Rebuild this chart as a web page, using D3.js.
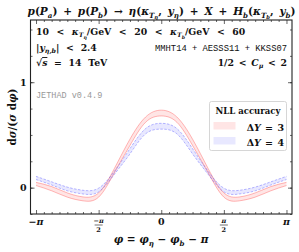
<!DOCTYPE html>
<html>
<head>
<meta charset="utf-8">
<script src="https://cdn.jsdelivr.net/npm/d3@7"></script>
<style>
  body { margin: 0; background: #fff; }
  svg { display: block; }
  text { font-family: "DejaVu Serif", "Liberation Serif", serif; font-weight: bold; fill: #111; }
  .mono { font-family: "Liberation Mono", "DejaVu Sans Mono", monospace; font-weight: normal; }
</style>
</head>
<body>
<svg id="chart" width="299" height="252"></svg>
<script>
// DATA: phi grid (in units of pi/8) and band edges
const phiSteps = [-8, -7, -6, -5, -4, -3, -2, -1, 0, 1, 2, 3, 4, 5, 6, 7, 8];
const dy3Hi = [0.05, 0.01, -0.05, -0.088, -0.05, 0.18, 0.46, 0.67, 0.735, 0.67, 0.46, 0.18, -0.05, -0.088, -0.05, 0.01, 0.05];
const dy3Lo = [0.02, -0.03, -0.09, -0.125, -0.09, 0.14, 0.40, 0.62, 0.68, 0.62, 0.40, 0.14, -0.09, -0.125, -0.09, -0.03, 0.02];
const dy4Hi = [0.107, 0.055, 0.005, -0.025, -0.005, 0.155, 0.37, 0.56, 0.61, 0.56, 0.37, 0.155, -0.005, -0.025, 0.005, 0.055, 0.107];
const dy4Lo = [0.077, 0.025, -0.03, -0.06, -0.04, 0.125, 0.32, 0.51, 0.555, 0.51, 0.32, 0.125, -0.04, -0.06, -0.03, 0.025, 0.077];
const seriesNames = ["\u0394Y = 3", "\u0394Y = 4"];
const xMajor = [-1, -0.5, 0, 0.5, 1];   // multiples of pi
const yMajor = [0, 1];

// SETUP
const margin = { top: 20, right: 7, bottom: 38, left: 30.5 },
      width = 299 - margin.left - margin.right,
      height = 252 - margin.top - margin.bottom;

const svg = d3.select("#chart");
const g = svg.append("g").attr("transform", `translate(${margin.left},${margin.top})`);

const x = d3.scaleLinear().domain([-3.28, 3.28]).range([0, width]);
const y = d3.scaleLinear().domain([-0.25, 1.59]).range([height, 0]);

// rich text helper: parts are [text, flags] where flags: i = italic, 1 = sub, 2 = subsub, o = overline
function rich(sel, px, py, parts, size, anchor, ws) {
    const t = sel.append("text").attr("x", px).attr("y", py)
        .attr("font-size", size).attr("text-anchor", anchor || "start")
        .attr("word-spacing", ws || 0);
    let off = 0;
    parts.forEach(([s, f = ""]) => {
        const lvl = f.includes("2") ? 2 : f.includes("1") ? 1 : 0;
        const target = lvl === 2 ? size * 0.42 : lvl === 1 ? size * 0.25 : 0;
        const fs = lvl === 2 ? size * 0.5 : lvl === 1 ? size * 0.68 : size;
        const ts = t.append("tspan").attr("dy", target - off).attr("font-size", fs).text(s);
        if (f.includes("i")) ts.attr("font-style", "italic");
        if (f.includes("o")) ts.attr("text-decoration", "overline");
        off = target;
    });
    return t;
}

// BANDS
const rows = phiSteps.map((k, i) => ({
    phi: k * Math.PI / 8, a: dy3Hi[i], b: dy3Lo[i], c: dy4Hi[i], d: dy4Lo[i]
}));

const band = (hi, lo) => d3.area().curve(d3.curveNatural)
    .x(d => x(d.phi)).y0(d => y(d[lo])).y1(d => y(d[hi]));
const edge = key => d3.line().curve(d3.curveNatural)
    .x(d => x(d.phi)).y(d => y(d[key]));

g.append("path").datum(rows).attr("d", band("a", "b"))
    .attr("fill", "rgba(255,0,0,0.1)");
g.append("path").datum(rows).attr("d", band("c", "d"))
    .attr("fill", "rgba(0,0,255,0.09)");

["a", "b"].forEach(k => g.append("path").datum(rows).attr("d", edge(k))
    .attr("fill", "none").attr("stroke", "rgba(255,60,60,0.4)").attr("stroke-width", 0.9));
["c", "d"].forEach(k => g.append("path").datum(rows).attr("d", edge(k))
    .attr("fill", "none").attr("stroke", "rgba(60,60,255,0.4)").attr("stroke-width", 0.9)
    .attr("stroke-dasharray", "2.5,1.5"));

// AXES: inward ticks on all four sides
const xMinor = d3.range(-16, 17).map(k => k * Math.PI / 16);
const yMinor = d3.range(-0.25, 1.59, 0.25);

function ticks(axisFn, scale, vals, len, tr) {
    g.append("g").attr("transform", tr)
        .call(axisFn(scale).tickValues(vals).tickSize(len).tickFormat(""))
        .call(s => s.select(".domain").remove())
        .selectAll("line").attr("stroke", "#222").attr("stroke-width", 0.7);
}
const isMajorX = v => xMajor.some(m => Math.abs(m * Math.PI - v) < 1e-6);
ticks(d3.axisBottom, x, xMinor.filter(v => !isMajorX(v)), -2, `translate(0,${height})`);
ticks(d3.axisBottom, x, xMajor.map(m => m * Math.PI), -4, `translate(0,${height})`);
ticks(d3.axisTop, x, xMinor.filter(v => !isMajorX(v)), -2, "translate(0,0)");
ticks(d3.axisTop, x, xMajor.map(m => m * Math.PI), -4, "translate(0,0)");
ticks(d3.axisLeft, y, yMinor, -2, "translate(0,0)");
ticks(d3.axisLeft, y, yMajor, -4, "translate(0,0)");
ticks(d3.axisRight, y, yMinor, -2, `translate(${width},0)`);
ticks(d3.axisRight, y, yMajor, -4, `translate(${width},0)`);

g.append("rect").attr("width", width).attr("height", height)
    .attr("fill", "none").attr("stroke", "#222").attr("stroke-width", 1.1);

// tick labels
yMajor.forEach(v => g.append("text").attr("x", -4).attr("y", y(v) + 3.5)
    .attr("text-anchor", "end").attr("font-size", 9.5).text(v));

xMajor.forEach(m => {
    const px = x(m * Math.PI);
    if (Math.abs(m) === 0.5) {
        g.append("text").attr("x", px).attr("y", height + 9).attr("text-anchor", "middle")
            .attr("font-size", 6.5).attr("font-style", "italic").text(m < 0 ? "\u2212\u03c0" : "\u03c0");
        g.append("line").attr("x1", px - 4).attr("x2", px + 4)
            .attr("y1", height + 11).attr("y2", height + 11).attr("stroke", "#111").attr("stroke-width", 0.6);
        g.append("text").attr("x", px).attr("y", height + 17.5).attr("text-anchor", "middle")
            .attr("font-size", 6.5).text("2");
    } else {
        g.append("text").attr("x", px).attr("y", height + 10.5).attr("text-anchor", "middle")
            .attr("font-size", 9.5).attr("font-style", m === 0 ? "normal" : "italic")
            .text(m === 0 ? "0" : (m < 0 ? "\u2212\u03c0" : "\u03c0"));
    }
});

// AXIS LABELS
rich(svg, 161, 243, [["\u03c6", "i"], [" = "], ["\u03c6", "i"], ["\u03b7", "i1"], [" \u2212 "],
    ["\u03c6", "i"], ["b", "i1"], [" \u2212 "], ["\u03c0", "i"]], 10.5, "middle");

const yl = svg.append("g").attr("transform", "translate(15.5,117) rotate(-90)");
rich(yl, 0, 0, [["d"], ["\u03c3", "i"], ["/("], ["\u03c3", "i"], [" d"], ["\u03c6", "i"], [")"]], 10.5, "middle");

// TITLE
rich(svg, 161.5, 15, [["p", "i"], ["("], ["P", "i"], ["a", "i1"], [") + "], ["p", "i"], ["("], ["P", "i"], ["b", "i1"],
    [") \u2192 "], ["\u03b7", "i"], ["("], ["\u03ba", "i"], ["T", "i1"], ["\u03b7", "i2"], [", "], ["y", "i"], ["\u03b7", "i1"],
    [") + "], ["X", "i"], [" + "], ["H", "i"], ["b", "i1"], ["("], ["\u03ba", "i"], ["T", "i1"], ["b", "i2"], [", "],
    ["y", "i"], ["b", "i1"], [")"]], 10.5, "middle", 2.2);

// INFO TEXT
rich(svg, 36, 35, [["10 < "], ["\u03ba", "i"], ["T", "i1"], ["\u03b7", "i2"], ["/GeV < 20 < "],
    ["\u03ba", "i"], ["T", "i1"], ["b", "i2"], ["/GeV < 60"]], 9.3, "start", 4.3);
rich(svg, 36, 51, [["|"], ["y", "i"], ["\u03b7,b", "i1"], ["| < 2.4"]], 9.3, "start", 3.5);
rich(svg, 36, 66, [["\u221a"], ["s", "io"], [" = 14 TeV"]], 9.3, "start", 3.5);
svg.append("text").attr("class", "mono").attr("x", 287).attr("y", 51)
    .attr("text-anchor", "end").attr("font-size", 8.8).text("MMHT14 + AESSS11 + KKSS07");
rich(svg, 287, 66, [["1/2 < "], ["C", "i"], ["\u03bc", "i1"], [" < 2"]], 9.3, "end", 1.5);
svg.append("text").attr("class", "mono").attr("x", 36).attr("y", 98)
    .attr("font-size", 8.5).style("fill", "#999").text("JETHAD v0.4.9");

// LEGEND
const lg = svg.append("g").attr("transform", "translate(209.5,101.5)");
lg.append("rect").attr("width", 77).attr("height", 49).attr("rx", 2)
    .attr("fill", "#fff").attr("stroke", "#ccc").attr("stroke-width", 0.8);
lg.append("text").attr("x", 38.5).attr("y", 12).attr("text-anchor", "middle")
    .attr("font-size", 8.5).text("NLL accuracy");
const swatch = ["rgba(255,0,0,0.1)", "rgba(0,0,255,0.09)"];
seriesNames.forEach((nm, i) => {
    lg.append("rect").attr("x", 4).attr("y", 20.5 + i * 15).attr("width", 22).attr("height", 7.5)
        .attr("fill", swatch[i]);
    rich(lg, 74.5, 29 + i * 15, [["\u0394"], ["Y", "i"], [nm.slice(2)]], 9.5, "end", 1);
});
</script>
</body>
</html>
